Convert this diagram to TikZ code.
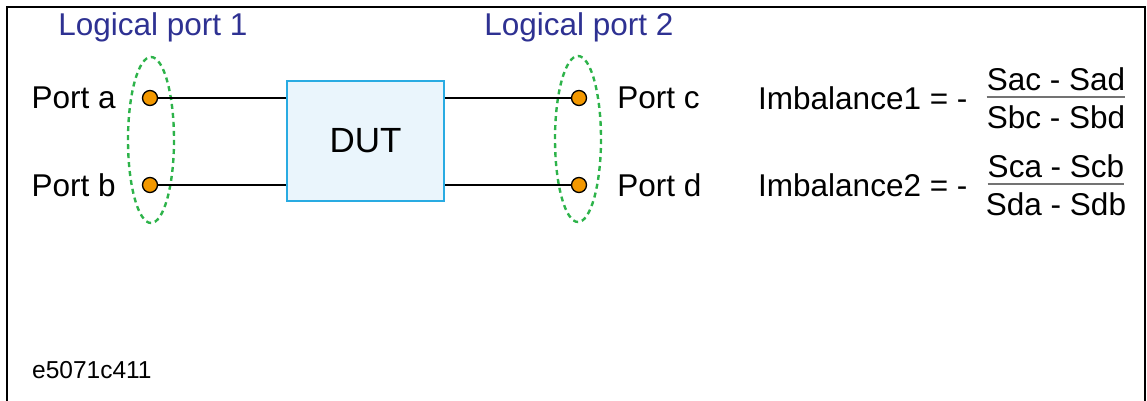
\documentclass[tikz,border=0pt]{standalone}
\usepackage{fontspec}
\setmainfont{Liberation Sans}
\usetikzlibrary{positioning, calc}

\definecolor{lpblue}{HTML}{2E3192}
\definecolor{grpgreen}{HTML}{2DB34A}
\definecolor{dotorange}{HTML}{F39800}
\definecolor{dutfill}{HTML}{EAF5FC}
\definecolor{dutline}{HTML}{29ABE2}

\begin{document}
\begin{tikzpicture}[
    x=1pt, y=-1pt,
    lbl/.style={font=\fontsize{31.5}{38}\selectfont, inner sep=0pt},
    grplbl/.style={lbl, text=lpblue},
    portdot/.style={draw, circle, fill=dotorange, line width=1.3pt, minimum size=15pt, inner sep=0pt},
    grp/.style={draw=grpgreen, dash pattern=on 5pt off 4pt, line width=2.4pt},
    dutbox/.style={draw=dutline, fill=dutfill, line width=2.2pt, minimum width=157pt,
                   minimum height=120pt, font=\fontsize{35}{42}\selectfont},
    wire/.style={draw, line width=1.6pt},
    fracbar/.style={draw, line width=1.4pt, color=black!55},
]
\useasboundingbox (0,0) rectangle (1147,400);
% --- Frame ---
\draw[line width=2.6pt] (7,402) -- (7,7) -- (1145,7) -- (1145,402);

% --- DUT ---
\node[dutbox] (dut) at (365.5,141) {DUT};

% --- Ports ---
\node[portdot] (pa) at (150,98) {};
\node[portdot] (pb) at (150,185) {};
\node[portdot] (pc) at (579,98) {};
\node[portdot] (pd) at (579,185) {};
\node[lbl, left=26pt of pa] (pa_lbl) {Port a};
\node[lbl, left=26pt of pb] (pb_lbl) {Port b};
\node[lbl, right=30pt of pc] (pc_lbl) {Port c};
\node[lbl, right=30pt of pd] (pd_lbl) {Port d};

% --- Logical ports ---
\draw[grp] (151,140) ellipse (23 and 83);
\draw[grp] (578,139) ellipse (23 and 83);
\node[grplbl] (lp1) at (153,27) {Logical port 1};
\node[grplbl] (lp2) at (579,27) {Logical port 2};

% --- Wires ---
\draw[wire] (pa) -- (pa -| dut.west);
\draw[wire] (pb) -- (pb -| dut.west);
\draw[wire] (dut.east |- pc) -- (pc);
\draw[wire] (dut.east |- pd) -- (pd);

% --- Imbalance formulas ---
\node[lbl, anchor=west] (imb1) at (758,98) {Imbalance1 = -};
\node[lbl, anchor=south] (num1) at (1056,91) {Sac - Sad};
\node[lbl, anchor=north] (den1) at (1056,105) {Sbc - Sbd};
\draw[fracbar] (num1.south west) ++(0,6) coordinate (bar1w) -- (bar1w -| num1.south east);

\node[lbl, anchor=west] (imb2) at (758,185) {Imbalance2 = -};
\node[lbl, anchor=south] (num2) at (1056,178) {Sca - Scb};
\node[lbl, anchor=north] (den2) at (1056,192) {Sda - Sdb};
\draw[fracbar] (num2.south west) ++(0,6) coordinate (bar2w) -- (bar2w -| num2.south east);

% --- Figure id ---
\node[font=\fontsize{24.5}{29}\selectfont, inner sep=0pt, anchor=west] (figid) at (32,370) {e5071c411};
\end{tikzpicture}
\end{document}
